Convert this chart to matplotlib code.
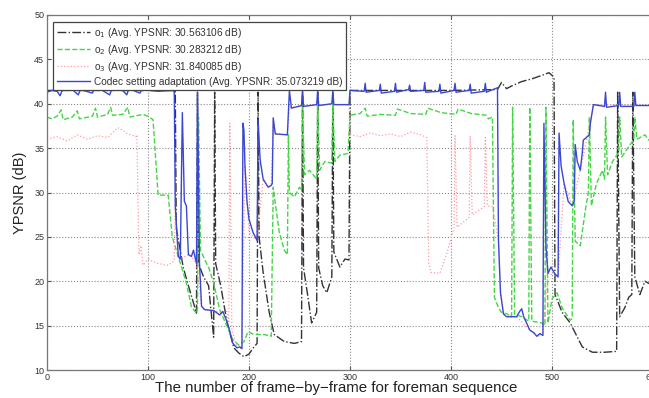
import matplotlib
matplotlib.use('Agg')
import matplotlib.pyplot as plt

# === datos (frame, YPSNR dB) ===
o1_x = [0, 30, 60, 90, 120, 127, 128, 135, 140, 148, 149, 150, 155, 160, 165, 166, 167, 172, 178,
        185, 190, 195, 200, 205, 208, 209, 210, 214, 220, 225, 235, 245, 252, 253, 254, 258, 262,
        267, 268, 269, 273, 277, 282, 283, 284, 290, 295, 299, 300, 350, 400, 446, 447, 450, 455,
        460, 470, 480, 490, 497, 502, 503, 510, 518, 530, 540, 552, 564, 565, 567, 572, 576, 579,
        580, 582, 587, 592, 600]
o1_y = [41.5, 41.5, 41.5, 41.5, 41.5, 41.5, 26.0, 21.5, 19.5, 16.4, 41.3, 22.0, 20.5, 19.5, 13.7, 41.3,
        22.0, 19.5, 15.5, 12.5, 11.9, 11.5, 11.8, 12.6, 13.0, 41.3, 25.0, 21.0, 16.5, 14.0, 13.2, 13.0,
        13.2, 41.3, 21.5, 18.5, 15.3, 16.5, 41.3, 21.5, 19.5, 18.7, 20.5, 41.3, 23.3, 21.6, 22.5, 22.4,
        41.5, 41.5, 41.5, 41.6, 41.8, 42.4, 41.7, 42.0, 42.5, 42.8, 43.2, 43.5, 43.0, 18.5, 16.5, 15.3,
        12.6, 12.0, 12.0, 12.1, 41.3, 16.0, 17.0, 18.2, 18.5, 41.3, 20.5, 18.5, 20.0, 19.5]

o2_x = [0, 5, 10, 14, 16, 25, 30, 32, 45, 48, 50, 60, 63, 65, 75, 80, 82, 95, 100, 105, 110, 120,
        124, 131, 138, 143, 148, 149, 150, 152, 158, 160, 165, 171, 176, 184, 190, 195, 199, 205, 215,
        222, 224, 226, 230, 235, 238, 239, 240, 245, 250, 252, 253, 255, 260, 267, 268, 270, 275, 282,
        283, 285, 290, 298, 300, 310, 315, 317, 330, 345, 347, 360, 375, 377, 390, 405, 407, 420, 435,
        437, 441, 443, 447, 450, 456, 460, 461, 463, 470, 477, 478, 480, 490, 493, 494, 496, 500, 505,
        510, 518, 520, 521, 523, 528, 533, 536, 537, 539, 544, 550, 552, 553, 555, 560, 566, 567, 569,
        575, 581, 582, 584, 592, 600]
o2_y = [38.5, 38.3, 38.6, 39.3, 38.2, 38.5, 39.2, 38.3, 38.6, 39.5, 38.5, 38.8, 39.6, 38.7, 38.8, 39.6,
        38.5, 38.8, 38.6, 38.2, 29.7, 29.7, 25.0, 22.4, 19.8, 17.1, 16.4, 17.0, 38.5, 23.5, 22.0, 21.6,
        19.8, 16.8, 15.5, 13.4, 12.8, 13.2, 14.3, 14.0, 14.0, 13.8, 30.6, 28.8, 25.5, 23.5, 23.0, 36.5,
        30.0, 29.5, 30.6, 30.2, 39.6, 32.0, 32.5, 31.5, 40.0, 32.5, 33.5, 33.3, 40.0, 33.5, 34.2, 34.4,
        38.7, 38.9, 39.5, 38.6, 38.8, 38.7, 39.4, 38.9, 38.8, 39.5, 39.0, 38.8, 39.4, 38.9, 38.7, 38.3,
        38.5, 18.2, 17.0, 16.5, 16.3, 16.0, 39.6, 16.3, 16.0, 15.5, 39.6, 15.5, 15.3, 15.0, 39.6, 15.3,
        18.0, 18.7, 17.0, 15.6, 15.8, 38.2, 24.5, 24.0, 28.0, 30.0, 38.5, 28.5, 31.0, 32.5, 31.5, 38.5,
        32.0, 33.5, 34.5, 38.5, 34.0, 35.0, 36.0, 38.5, 36.0, 36.5, 35.3]

o3_x = [0, 10, 20, 30, 40, 50, 60, 70, 75, 80, 88, 89, 91, 93, 95, 100, 110, 120, 126, 127, 130,
        132, 140, 143, 148, 153, 156, 165, 172, 178, 180, 181, 183, 188, 193, 196, 200, 208, 214, 219,
        222, 224, 226, 238, 240, 260, 280, 299, 300, 310, 320, 330, 340, 350, 360, 370, 376, 378, 380,
        389, 396, 403, 404, 406, 418, 419, 421, 433, 434, 436, 441, 447, 449, 452, 465, 478, 485, 491,
        496, 506, 512, 520, 528, 535, 541, 600]
o3_y = [36.0, 36.3, 35.8, 36.5, 36.0, 36.4, 36.2, 37.3, 37.0, 36.6, 36.3, 36.5, 23.0, 24.0, 21.8, 22.5,
        22.0, 21.8, 22.3, 28.5, 22.8, 22.5, 23.0, 22.8, 22.0, 17.2, 16.8, 16.7, 16.5, 16.6, 15.3, 37.8,
        14.5, 12.6, 12.4, 33.0, 25.5, 24.6, 31.5, 30.6, 30.8, 38.4, 36.6, 36.5, 39.6, 39.8, 39.9, 39.9,
        36.5, 36.3, 36.7, 36.4, 36.6, 36.3, 36.8, 36.5, 36.2, 22.0, 21.0, 20.9, 23.2, 26.0, 36.4, 26.1,
        27.2, 36.4, 27.5, 28.4, 36.2, 28.5, 28.4, 24.6, 18.7, 16.3, 16.0, 14.5, 13.8, 13.9, 20.9, 20.5,
        31.0, 28.5, 32.5, 36.3, 39.9, 39.8]

adapt_x = [0, 5, 10, 13, 15, 25, 31, 33, 45, 47, 55, 62, 64, 75, 79, 81, 92, 94, 110, 124, 126, 127,
           130, 132, 134, 136, 138, 140, 143, 145, 148, 149, 151, 153, 156, 165, 171, 174, 177, 180,
           184, 188, 191, 193, 194, 195, 196, 198, 200, 204, 208, 209, 211, 214, 219, 222, 223, 224,
           226, 238, 240, 242, 252, 253, 254, 267, 268, 269, 282, 283, 284, 299, 300, 314, 315, 316,
           329, 330, 331, 344, 345, 346, 358, 359, 360, 373, 374, 375, 388, 389, 390, 403, 404, 405,
           418, 419, 420, 433, 434, 435, 446, 447, 449, 452, 455, 465, 468, 470, 472, 478, 482, 485,
           488, 491, 492, 494, 496, 499, 503, 506, 507, 509, 512, 516, 520, 522, 523, 525, 528, 530,
           531, 535, 537, 538, 541, 552, 553, 554, 566, 567, 568, 581, 582, 583, 600]
adapt_y = [41.3, 41.5, 41.4, 40.9, 41.5, 41.6, 41.0, 41.6, 41.2, 41.8, 41.5, 41.0, 41.6, 41.5, 41.0,
           41.7, 41.2, 41.6, 41.4, 41.5, 41.4, 28.5, 22.8, 22.5, 39.0, 29.0, 28.5, 23.0, 22.8, 23.5,
           22.0, 41.3, 22.0, 17.2, 16.8, 16.7, 16.2, 16.6, 15.8, 14.8, 13.0, 12.5, 12.6, 12.4, 37.8,
           37.0, 33.0, 29.0, 27.0, 25.5, 24.6, 38.2, 33.7, 31.5, 30.6, 30.8, 31.0, 38.4, 36.6, 36.5,
           41.5, 39.5, 39.8, 41.5, 39.7, 39.9, 41.5, 39.8, 40.0, 41.5, 39.9, 39.9, 41.5, 41.4, 42.3,
           41.3, 41.5, 42.2, 41.2, 41.4, 42.3, 41.3, 41.6, 42.1, 41.4, 41.5, 42.4, 41.3, 41.4, 42.2,
           41.2, 41.5, 42.3, 41.3, 41.5, 42.2, 41.2, 41.4, 42.3, 41.3, 41.8, 24.6, 18.7, 16.3, 16.0,
           16.0, 16.6, 16.9, 16.0, 14.5, 14.2, 13.8, 14.1, 13.9, 37.8, 24.0, 20.9, 21.6, 20.8, 20.5,
           36.7, 33.0, 31.0, 29.0, 28.5, 29.0, 35.4, 33.5, 32.5, 34.5, 35.9, 36.3, 36.5, 37.8, 39.9,
           39.7, 41.3, 39.6, 39.8, 41.3, 39.7, 39.7, 41.3, 39.8, 39.8]

labels = ['o$_1$ (Avg. YPSNR: 30.563106 dB)',
          'o$_2$ (Avg. YPSNR: 30.283212 dB)',
          'o$_3$ (Avg. YPSNR: 31.840085 dB)',
          'Codec setting adaptation (Avg. YPSNR: 35.073219 dB)']

plt.rcParams['font.family'] = ['Liberation Sans', 'DejaVu Sans']

fig = plt.figure(figsize=(6.49, 3.98), dpi=100)
ax = fig.add_axes([47/649, 28/398, 606/649, 355/398])

ax.plot(o1_x, o1_y, linestyle='-.', color='#333333', lw=1.0, label=labels[0])
ax.plot(o2_x, o2_y, linestyle='--', color='#44d644', lw=1.0, label=labels[1])
ax.plot(o3_x, o3_y, linestyle=':', color='#ff9aa4', lw=0.9, label=labels[2])
ax.plot(adapt_x, adapt_y, linestyle='-', color='#3a47d2', lw=1.0, label=labels[3])

ax.set_xlim(0, 600)
ax.set_ylim(10, 50)
ax.set_xticks(range(0, 601, 100))
ax.set_yticks(range(10, 51, 5))
ax.grid(True, linestyle=':', color='#888888', lw=0.8)
ax.tick_params(direction='in', top=True, right=True, length=3, labelsize=6.5,
               colors='#555555', labelcolor='#333333', pad=2)
for s in ax.spines.values():
    s.set_color('#777777')
    s.set_linewidth(0.9)

ax.set_xlabel('The number of frame\u2212by\u2212frame for foreman sequence', fontsize=10.8,
              color='#222222', va='center')
ax.xaxis.set_label_coords(0.477, -0.052)
ax.set_ylabel('YPSNR (dB)', fontsize=10.5, color='#222222', labelpad=5)

leg = ax.legend(loc='upper left', bbox_to_anchor=(0.0099, 0.98), borderaxespad=0, fontsize=7.3,
                handlelength=3.3, labelspacing=0.3, fancybox=False, framealpha=1,
                edgecolor='#444444', borderpad=0.35, handletextpad=0.35)
leg.get_frame().set_linewidth(0.9)
for t in leg.get_texts():
    t.set_color('#333333')

fig.savefig('out.png', dpi=100)
